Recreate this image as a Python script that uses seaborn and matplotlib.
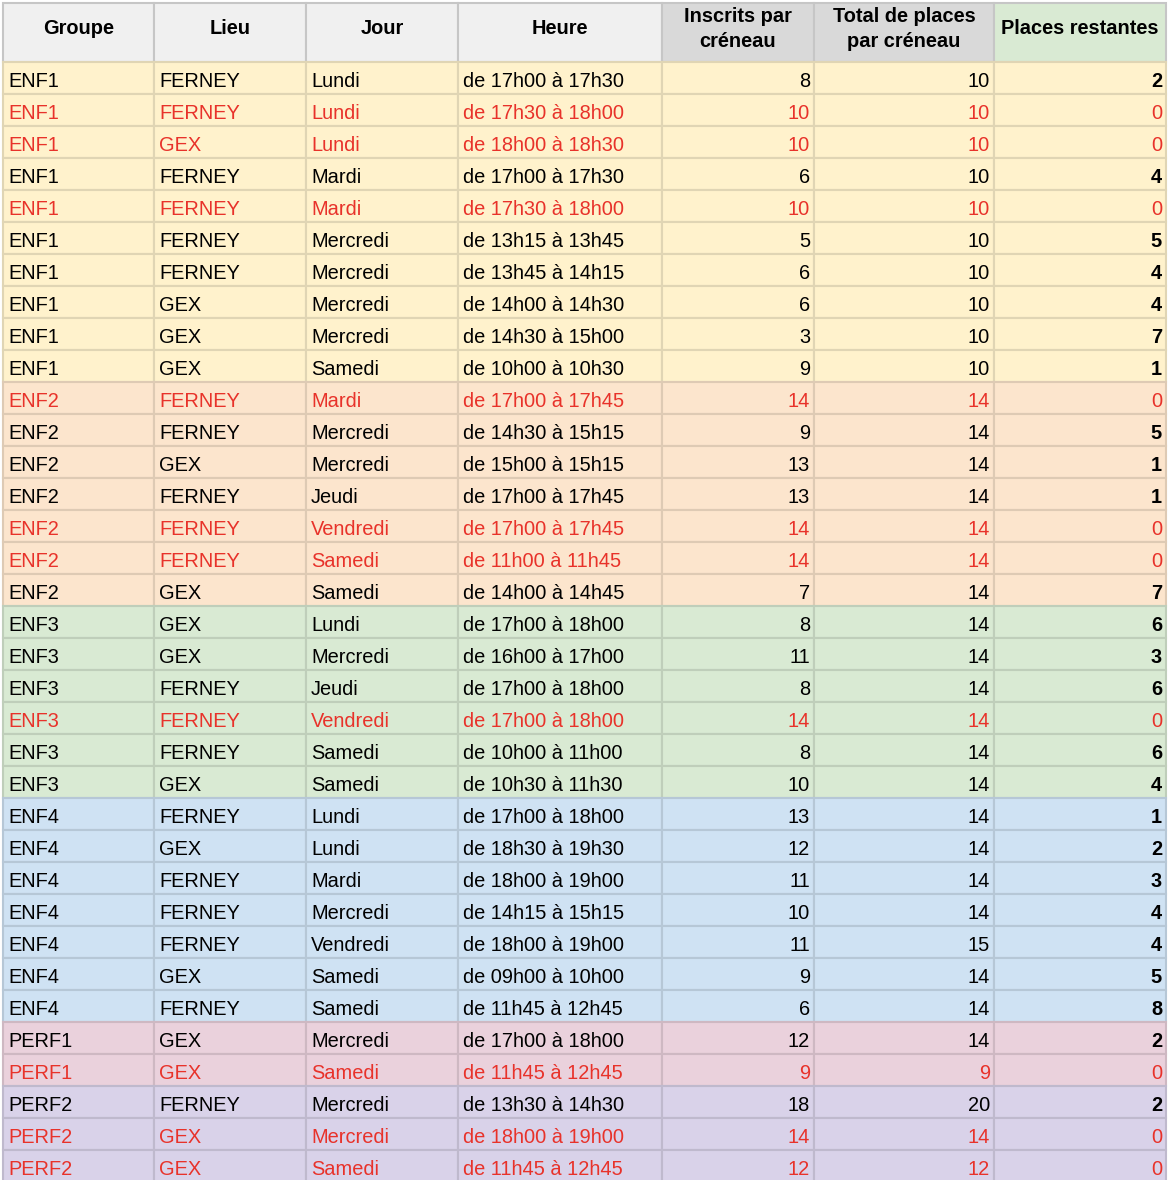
import seaborn as sns
import matplotlib.pyplot as plt
import pandas as pd
from matplotlib.patches import Rectangle
from matplotlib.colors import to_rgb

sns.set_theme(style='white')
plt.rcParams['font.family'] = ['Liberation Sans', 'DejaVu Sans']

headers = ['Groupe', 'Lieu', 'Jour', 'Heure', 'Inscrits par\ncréneau',
           'Total de places\npar créneau', 'Places restantes']

groupe = ['ENF1'] * 10 + ['ENF2'] * 7 + ['ENF3'] * 6 + ['ENF4'] * 7 + ['PERF1'] * 2 + ['PERF2'] * 3
lieu = ['FERNEY', 'FERNEY', 'GEX', 'FERNEY', 'FERNEY', 'FERNEY', 'FERNEY', 'GEX', 'GEX', 'GEX',
        'FERNEY', 'FERNEY', 'GEX', 'FERNEY', 'FERNEY', 'FERNEY', 'GEX',
        'GEX', 'GEX', 'FERNEY', 'FERNEY', 'FERNEY', 'GEX',
        'FERNEY', 'GEX', 'FERNEY', 'FERNEY', 'FERNEY', 'GEX', 'FERNEY',
        'GEX', 'GEX',
        'FERNEY', 'GEX', 'GEX']
jour = ['Lundi', 'Lundi', 'Lundi', 'Mardi', 'Mardi', 'Mercredi', 'Mercredi', 'Mercredi', 'Mercredi', 'Samedi',
        'Mardi', 'Mercredi', 'Mercredi', 'Jeudi', 'Vendredi', 'Samedi', 'Samedi',
        'Lundi', 'Mercredi', 'Jeudi', 'Vendredi', 'Samedi', 'Samedi',
        'Lundi', 'Lundi', 'Mardi', 'Mercredi', 'Vendredi', 'Samedi', 'Samedi',
        'Mercredi', 'Samedi',
        'Mercredi', 'Mercredi', 'Samedi']
heure = ['de 17h00 à 17h30', 'de 17h30 à 18h00', 'de 18h00 à 18h30', 'de 17h00 à 17h30',
         'de 17h30 à 18h00', 'de 13h15 à 13h45', 'de 13h45 à 14h15', 'de 14h00 à 14h30',
         'de 14h30 à 15h00', 'de 10h00 à 10h30',
         'de 17h00 à 17h45', 'de 14h30 à 15h15', 'de 15h00 à 15h15', 'de 17h00 à 17h45',
         'de 17h00 à 17h45', 'de 11h00 à 11h45', 'de 14h00 à 14h45',
         'de 17h00 à 18h00', 'de 16h00 à 17h00', 'de 17h00 à 18h00', 'de 17h00 à 18h00',
         'de 10h00 à 11h00', 'de 10h30 à 11h30',
         'de 17h00 à 18h00', 'de 18h30 à 19h30', 'de 18h00 à 19h00', 'de 14h15 à 15h15',
         'de 18h00 à 19h00', 'de 09h00 à 10h00', 'de 11h45 à 12h45',
         'de 17h00 à 18h00', 'de 11h45 à 12h45',
         'de 13h30 à 14h30', 'de 18h00 à 19h00', 'de 11h45 à 12h45']
inscrits = [8, 10, 10, 6, 10, 5, 6, 6, 3, 9,
            14, 9, 13, 13, 14, 14, 7,
            8, 11, 8, 14, 8, 10,
            13, 12, 11, 10, 11, 9, 6,
            12, 9,
            18, 14, 12]
total = [10, 10, 10, 10, 10, 10, 10, 10, 10, 10,
         14, 14, 14, 14, 14, 14, 14,
         14, 14, 14, 14, 14, 14,
         14, 14, 14, 14, 15, 14, 14,
         14, 9,
         20, 14, 12]
restantes = [2, 0, 0, 4, 0, 5, 4, 4, 7, 1,
             0, 5, 1, 1, 0, 0, 7,
             6, 3, 6, 0, 6, 4,
             1, 2, 3, 4, 4, 5, 8,
             2, 0,
             2, 0, 0]

group_colors = {'ENF1': '#fff2cc', 'ENF2': '#fce5cd', 'ENF3': '#d9ead3',
                'ENF4': '#cfe2f3', 'PERF1': '#ead1dc', 'PERF2': '#d9d2e9'}
header_colors = ['#f0f0f0'] * 4 + ['#d9d9d9', '#d9d9d9', '#d9ead3']
red = '#e8322a'

df = pd.DataFrame({'Groupe': groupe, 'Lieu': lieu, 'Jour': jour, 'Heure': heure,
                   'Inscrits': inscrits, 'Total': total, 'Restantes': restantes})

# layout in pixels
col_edges = [3, 154, 306, 458, 662, 814, 994, 1166]
header_top, header_bottom, row_h = 3, 62, 32
fs = 14.4


def darker(c, f=0.88):
    return tuple(v * f for v in to_rgb(c))


fig = plt.figure(figsize=(11.68, 11.80), dpi=100)
ax = fig.add_axes([0, 0, 1, 1])
ax.set_xlim(0, 1168)
ax.set_ylim(1180, 0)
ax.axis('off')

# header
for j, h in enumerate(headers):
    x0, x1 = col_edges[j], col_edges[j + 1]
    ax.add_patch(Rectangle((x0, header_top), x1 - x0, header_bottom - header_top,
                           facecolor=header_colors[j], edgecolor='#c6c6c6', lw=1.5))
    ax.text((x0 + x1) / 2, 29, h, ha='center', va='center', fontsize=fs,
            fontweight='bold', color='black', linespacing=1.35)

# body
for i, row in df.iterrows():
    y0 = header_bottom + i * row_h
    fill = group_colors[row['Groupe']]
    full = row['Restantes'] == 0
    tcol = red if full else 'black'
    vals = [row['Groupe'], row['Lieu'], row['Jour'], row['Heure'],
            str(row['Inscrits']), str(row['Total']), str(row['Restantes'])]
    for j, v in enumerate(vals):
        x0, x1 = col_edges[j], col_edges[j + 1]
        ax.add_patch(Rectangle((x0, y0), x1 - x0, row_h, facecolor=fill,
                               edgecolor=darker(fill), lw=1.5))
        yb = y0 + row_h - 7
        if j < 4:
            ax.text(x0 + 5, yb, v, ha='left', va='baseline', fontsize=fs, color=tcol)
        else:
            weight = 'bold' if (j == 6 and not full) else 'normal'
            ax.text(x1 - 4, yb, v, ha='right', va='baseline', fontsize=fs,
                    color=tcol, fontweight=weight)

plt.savefig('out.png', dpi=100)
